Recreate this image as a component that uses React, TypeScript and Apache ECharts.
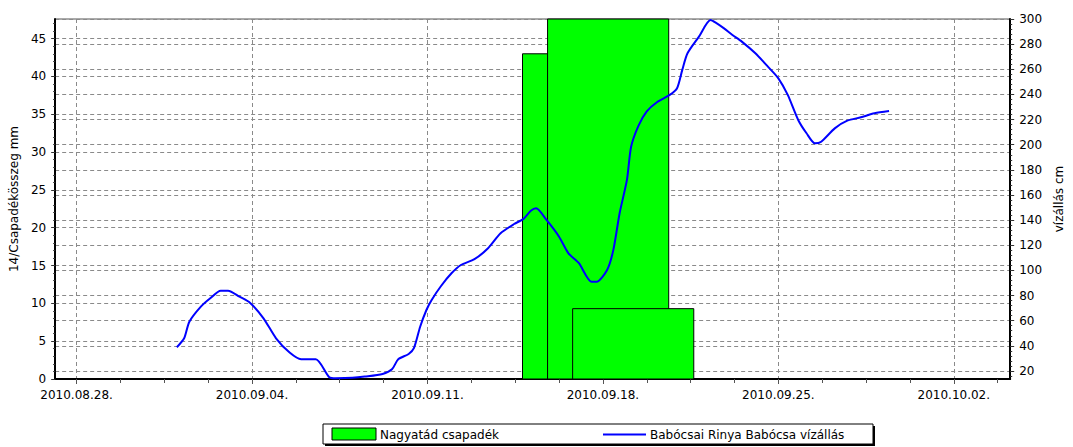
import React, { useEffect, useRef } from 'react';
import * as echarts from 'echarts';

// ---- data ----
const rainStart = ['2010-09-14 19:00', '2010-09-15 19:00', '2010-09-16 19:00'];
const rainEnd = ['2010-09-15 19:00', '2010-09-20 15:00', '2010-09-21 15:00'];
const rainValues = [43, 60, 9.3];

const levelTimes = [
  '2010-09-01 00:00', '2010-09-01 07:00', '2010-09-01 12:00', '2010-09-01 23:00', '2010-09-02 08:00',
  '2010-09-02 18:00', '2010-09-03 01:00', '2010-09-03 12:00', '2010-09-03 22:00', '2010-09-04 11:00',
  '2010-09-04 23:00', '2010-09-05 12:00', '2010-09-05 23:00', '2010-09-06 13:00', '2010-09-07 02:00',
  '2010-09-07 08:00', '2010-09-08 00:00', '2010-09-08 12:00', '2010-09-09 05:00', '2010-09-09 14:00',
  '2010-09-09 20:00', '2010-09-10 06:00', '2010-09-10 11:00', '2010-09-10 17:00', '2010-09-10 23:00',
  '2010-09-11 04:00', '2010-09-11 13:00', '2010-09-11 23:00', '2010-09-12 08:00', '2010-09-12 21:00',
  '2010-09-13 10:00', '2010-09-13 22:00', '2010-09-14 11:00', '2010-09-14 20:00', '2010-09-15 03:00',
  '2010-09-15 08:00', '2010-09-15 18:00', '2010-09-16 06:00', '2010-09-16 15:00', '2010-09-17 01:00',
  '2010-09-17 13:00', '2010-09-17 18:00', '2010-09-18 04:00', '2010-09-18 10:00', '2010-09-18 16:00',
  '2010-09-18 23:00', '2010-09-19 03:00', '2010-09-19 10:00', '2010-09-19 18:00', '2010-09-20 04:00',
  '2010-09-20 16:00', '2010-09-20 23:00', '2010-09-21 04:00', '2010-09-21 09:00', '2010-09-21 20:00',
  '2010-09-22 07:00', '2010-09-22 12:00', '2010-09-22 20:00', '2010-09-23 04:00', '2010-09-23 13:00',
  '2010-09-24 02:00', '2010-09-24 14:00', '2010-09-25 00:00', '2010-09-25 09:00', '2010-09-25 19:00',
  '2010-09-26 03:00', '2010-09-26 11:00', '2010-09-26 17:00', '2010-09-27 06:00', '2010-09-27 18:00',
  '2010-09-28 07:00', '2010-09-28 20:00', '2010-09-29 10:00',
];
const levelValues = [
  38.9, 46.0, 59.2, 71.2, 77.8,
  83.9, 83.9, 79.1, 74.3, 61.9,
  46.0, 34.6, 29.3, 29.3, 15.0,
  14.2, 14.5, 15.5, 17.6, 21.3,
  29.3, 33.5, 38.1, 55.2, 68.5,
  76.5, 87.6, 97.7, 104.3, 108.9,
  117.6, 129.5, 136.9, 141.0, 147.5,
  149.4, 140.1, 126.8, 113.6, 105.7,
  91.0, 91.0, 100.3, 116.3, 145.5,
  172.0, 198.4, 215.0, 226.5, 234.0,
  239.6, 244.9, 259.5, 272.7, 286.0,
  299.2, 297.1, 292.5, 287.3, 282.0,
  272.7, 262.1, 252.8, 239.6, 219.7,
  209.1, 201.1, 202.4, 213.0, 219.1,
  221.8, 225.0, 226.8,
];

const xTickDates = ['2010-08-28', '2010-09-04', '2010-09-11', '2010-09-18', '2010-09-25', '2010-10-02'];
const leftTicks = [0, 5, 10, 15, 20, 25, 30, 35, 40, 45];
const rightTicks = [20, 40, 60, 80, 100, 120, 140, 160, 180, 200, 220, 240, 260, 280, 300];

const seriesNames = ['Nagyatád csapadék', 'Babócsai Rinya Babócsa vízállás'];
const leftAxisName = '14/Csapadékösszeg mm';
const rightAxisName = 'vízállás cm';

// ---- helpers ----
const parseT = (s: string) => {
  const [date, time = '00:00'] = s.split(' ');
  const [y, m, d] = date.split('-').map(Number);
  const [hh, mm] = time.split(':').map(Number);
  return Date.UTC(y, m - 1, d, hh, mm);
};
const pad = (n: number) => (n < 10 ? '0' + n : '' + n);
const fmtDate = (ms: number) => {
  const d = new Date(ms);
  return `${d.getUTCFullYear()}.${pad(d.getUTCMonth() + 1)}.${pad(d.getUTCDate())}.`;
};

const X_MIN = parseT('2010-08-27 03:30');
const X_MAX = parseT('2010-10-04 06:00');
const DAY = 86400000;

const FONT = '"DejaVu Sans", sans-serif';

export default function App() {
  const ref = useRef<HTMLDivElement>(null);

  useEffect(() => {
    if (!ref.current) return;
    const chart = echarts.init(ref.current, undefined, { renderer: 'svg' });

    const xMajor = xTickDates.map(parseT);
    const xMinor: number[] = [];
    for (let t = xMajor[0]; t <= X_MAX; t += 1.75 * DAY) xMinor.push(t);
    const leftMinor: number[] = [];
    for (let v = 0; v <= 47; v += 1) leftMinor.push(v);
    const rightMinor: number[] = [];
    for (let v = 16; v <= 300; v += 4) rightMinor.push(v);

    const rainData = rainValues.map((v, i) => [parseT(rainStart[i]), parseT(rainEnd[i]), v]);
    const levelData = levelValues.map((v, i) => [parseT(levelTimes[i]), v]);

    const gridLine = { show: true, lineStyle: { color: '#8a8a8a', type: [4, 3] as any, width: 1 } };
    const labelStyle = { fontFamily: FONT, fontSize: 12, color: '#000' };

    const option: any = {
      animation: false,
      backgroundColor: '#fff',
      grid: {
        left: 53, right: 56, top: 19, bottom: 68,
        show: true, borderColor: '#555', borderWidth: 1, backgroundColor: 'transparent',
      },
      xAxis: [
        {
          type: 'value', min: X_MIN, max: X_MAX, position: 'bottom',
          axisLine: { show: true, onZero: false, lineStyle: { color: '#000', width: 2 } },
          axisTick: { show: true, customValues: xMajor, length: 5, lineStyle: { color: '#555' } },
          axisLabel: { ...labelStyle, customValues: xMajor, margin: 10, formatter: (v: number) => fmtDate(v) },
          splitLine: gridLine,
        },
        {
          type: 'value', min: X_MIN, max: X_MAX, position: 'bottom',
          axisLine: { show: false, onZero: false },
          axisTick: { show: true, customValues: xMinor, length: 4, lineStyle: { color: '#555' } },
          axisLabel: { show: false },
          splitLine: { show: false },
        },
      ],
      yAxis: [
        {
          type: 'value', min: 0, max: 47.6, position: 'left',
          name: leftAxisName, nameLocation: 'middle', nameGap: 30,
          nameTextStyle: { fontFamily: FONT, fontSize: 12, color: '#000' },
          axisLine: { show: true, onZero: false, lineStyle: { color: '#000', width: 2 } },
          axisTick: { show: true, customValues: leftTicks, length: 4, lineStyle: { color: '#333' } },
          axisLabel: { ...labelStyle, customValues: leftTicks, margin: 9 },
          splitLine: gridLine,
        },
        {
          type: 'value', min: 13.6, max: 300, position: 'right',
          name: rightAxisName, nameLocation: 'middle', nameGap: 38,
          nameTextStyle: { fontFamily: FONT, fontSize: 12, color: '#000' },
          axisLine: { show: true, onZero: false, lineStyle: { color: '#000', width: 2 } },
          axisTick: { show: true, customValues: rightTicks, length: 4, lineStyle: { color: '#333' } },
          axisLabel: { ...labelStyle, customValues: rightTicks, margin: 9 },
          splitLine: gridLine,
        },
        {
          type: 'value', min: 0, max: 47.6, position: 'left', offset: 0,
          axisLine: { show: false, onZero: false },
          axisTick: { show: true, customValues: leftMinor, length: 2, lineStyle: { color: '#333' } },
          axisLabel: { show: false },
          splitLine: { show: false },
        },
        {
          type: 'value', min: 13.6, max: 300, position: 'right', offset: 0,
          axisLine: { show: false, onZero: false },
          axisTick: { show: true, customValues: rightMinor, length: 2, lineStyle: { color: '#333' } },
          axisLabel: { show: false },
          splitLine: { show: false },
        },
      ],
      series: [
        {
          name: seriesNames[0],
          type: 'custom',
          xAxisIndex: 0,
          yAxisIndex: 0,
          encode: { x: [0, 1], y: 2 },
          data: rainData,
          z: 2,
          renderItem: (params: any, api: any) => {
            const s = api.value(0);
            const e = api.value(1);
            const v = api.value(2);
            const p0 = api.coord([s, v]);
            const p1 = api.coord([e, 0]);
            const cs = params.coordSys;
            const shape = echarts.graphic.clipRectByRect(
              { x: p0[0], y: p0[1], width: p1[0] - p0[0], height: p1[1] - p0[1] },
              { x: cs.x, y: cs.y, width: cs.width, height: cs.height }
            );
            if (!shape) return null;
            return {
              type: 'rect',
              shape,
              style: { fill: '#00ff00', stroke: '#000', lineWidth: 1 },
            };
          },
        },
        {
          name: seriesNames[1],
          type: 'line',
          xAxisIndex: 0,
          yAxisIndex: 1,
          data: levelData,
          showSymbol: false,
          symbol: 'none',
          smooth: 0.25,
          z: 5,
          lineStyle: { color: '#0000ff', width: 2 },
        },
      ],
      graphic: [
        { type: 'rect', shape: { x: 325, y: 426, width: 550, height: 20 }, style: { fill: '#000' }, z: 10 },
        { type: 'rect', shape: { x: 323, y: 424, width: 550, height: 20 }, style: { fill: '#fff', stroke: '#000', lineWidth: 1 }, z: 11 },
        { type: 'rect', shape: { x: 332, y: 428, width: 44, height: 12 }, style: { fill: '#00ff00', stroke: '#000', lineWidth: 1 }, z: 12 },
        { type: 'text', x: 380, y: 434.5, style: { text: seriesNames[0], font: `12px ${FONT}`, fill: '#000', verticalAlign: 'middle' }, z: 12 },
        { type: 'line', shape: { x1: 603, y1: 434.5, x2: 646, y2: 434.5 }, style: { stroke: '#0000ff', lineWidth: 2 }, z: 12 },
        { type: 'text', x: 650, y: 434.5, style: { text: seriesNames[1], font: `12px ${FONT}`, fill: '#000', verticalAlign: 'middle' }, z: 12 },
      ],
    };

    chart.setOption(option);
    return () => chart.dispose();
  }, []);

  return (
    <div
      ref={ref}
      style={{ position: 'fixed', left: 0, top: 0, width: 1073, height: 447, background: '#fff' }}
    />
  );
}
